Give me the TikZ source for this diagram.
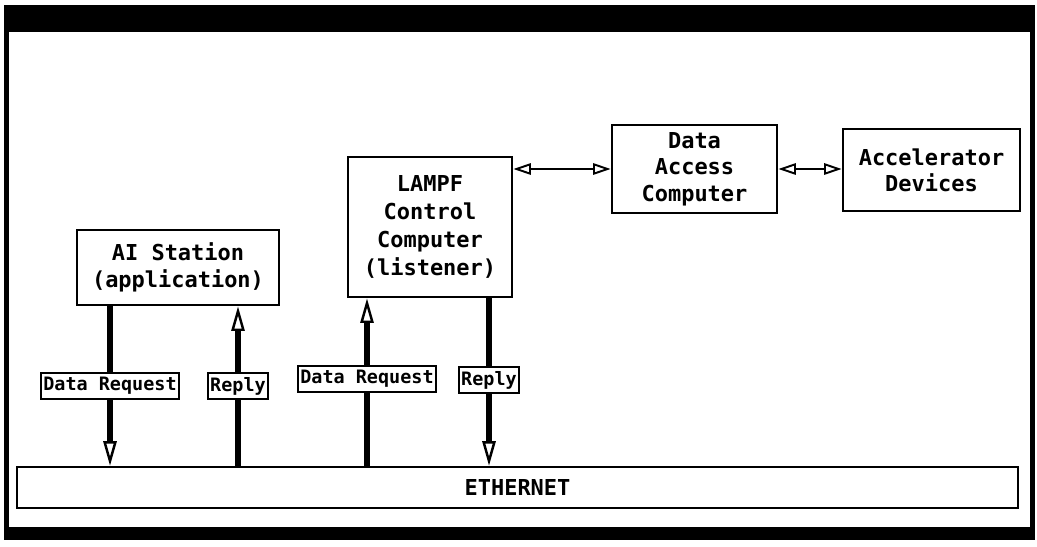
\documentclass[tikz,border=0pt]{standalone}
\usepackage{fontspec}
\setmonofont{DejaVu Sans Mono}
\usetikzlibrary{arrows.meta}
\tikzset{
  unit/.style={draw, line width=1.6pt, align=center, inner sep=0pt,
    font=\ttfamily\bfseries\fontsize{12.5}{15}\selectfont},
  tag/.style={draw, fill=white, line width=1.1pt, inner xsep=1.5pt, inner ysep=2.5pt,
    font=\ttfamily\bfseries\fontsize{10.5}{12}\selectfont},
  bus/.style={line width=3.4pt,
    arrows={-Triangle[fill=white, line width=1.4pt, length=14pt, width=7.5pt]}},
  link/.style={line width=1.1pt,
    arrows={Triangle[fill=white, line width=1.1pt, length=10pt, width=6.5pt]-Triangle[fill=white, line width=1.1pt, length=10pt, width=6.5pt]}}
}
\begin{document}
\begin{tikzpicture}[x=0.02cm,y=-0.02cm]
\useasboundingbox (0,0) rectangle (1037,547);
% frame of the scanned page
\fill (4,5) rectangle (1035,32);
\fill (4,527) rectangle (1035,540);
\fill (4,5) rectangle (9,540);
\fill (1030,5) rectangle (1035,540);

\node[unit, minimum width=4.04cm, minimum height=1.5cm] (ai) at (178,267.5) {AI Station\\(application)};
\node[unit, minimum width=3.28cm, minimum height=2.8cm,
  font=\ttfamily\bfseries\fontsize{12.5}{16}\selectfont] (lampf) at (430,227) {LAMPF\\Control\\Computer\\(listener)};
\node[unit, minimum width=3.3cm, minimum height=1.76cm] (dac) at (694.5,169) {Data\\Access\\Computer};
\node[unit, minimum width=3.54cm, minimum height=1.64cm] (acc) at (931.5,170) {Accelerator\\Devices};
\node[unit, line width=1.4pt, minimum width=20.02cm, minimum height=0.82cm] (eth) at (517.5,487.5) {ETHERNET};

\coordinate (reqA) at (110,386);
\coordinate (repA) at (238,386);
\coordinate (reqB) at (367,379);
\coordinate (repB) at (489,380);

\draw[bus] (ai.south -| reqA) -- (reqA |- eth.north);
\draw[bus] (repA |- eth.north) -- (ai.south -| repA);
\draw[bus] (reqB |- eth.north) -- (lampf.south -| reqB);
\draw[bus] (lampf.south -| repB) -- (repB |- eth.north);

\node[tag] (reqAtag) at (reqA) {Data Request};
\node[tag] (repAtag) at (repA) {Reply};
\node[tag] (reqBtag) at (reqB) {Data Request};
\node[tag] (repBtag) at (repB) {Reply};

\draw[link] (lampf.east |- dac.west) -- (dac.west);
\draw[link] (dac.east) -- (acc.west |- dac.east);
\end{tikzpicture}
\end{document}
